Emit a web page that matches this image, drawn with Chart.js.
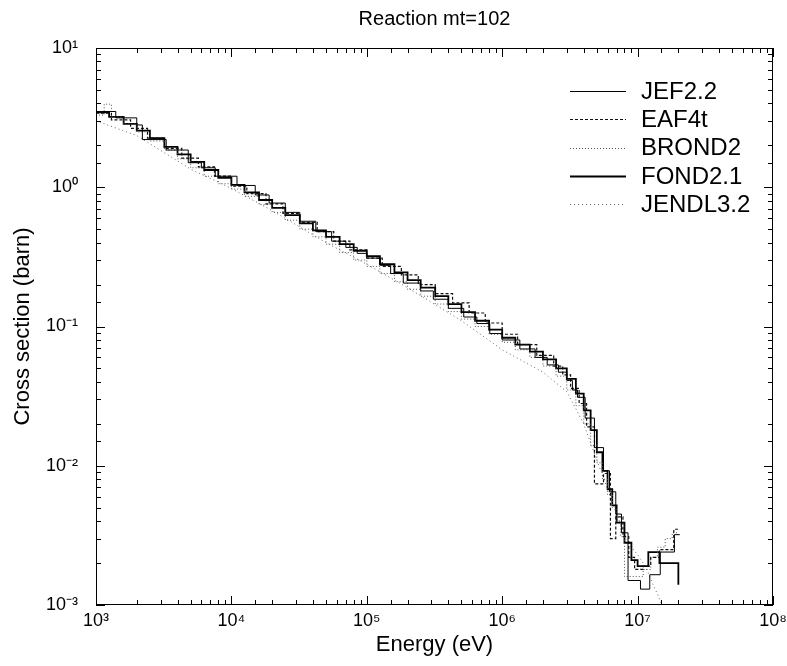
<!DOCTYPE html>
<html>
<head>
<meta charset="utf-8">
<title>Reaction mt=102</title>
<script src="https://cdn.jsdelivr.net/npm/chart.js@4.4.1/dist/chart.umd.min.js"></script>
<style>
  body { margin: 0; background: #fff; }
  #wrap { width: 787px; height: 666px; }
</style>
</head>
<body>
<div id="wrap"><canvas id="xsChart"></canvas></div>
<script>
// --- data (lower bin edge in eV, cross section in barn) ---
const seriesNames = ['JEF2.2', 'EAF4t', 'BROND2', 'FOND2.1', 'JENDL3.2'];

const jefE = [1e3, 1.4e3, 2.0e3, 2.2e3, 3.3e3, 4.8e3, 6.0e3, 7.6e3, 1.1e4, 1.5e4, 1.9e4, 2.5e4, 3.2e4, 4.2e4,
  5.5e4, 7.0e4, 8.5e4, 1.0e5, 1.26e5, 1.5e5, 1.86e5, 2.5e5, 3.1e5, 4.0e5, 5.2e5, 6.5e5, 8.1e5, 1.0e6,
  1.35e6, 1.75e6, 2.15e6, 2.6e6, 3.0e6, 3.3e6, 3.6e6, 4.1e6, 4.8e6, 5.6e6, 6.2e6, 6.9e6, 7.6e6, 8.5e6,
  1.05e7, 1.23e7, 1.47e7, 1.87e7, 2.05e7];
const jefS = [3.5, 3.15, 2.8, 2.2, 1.85, 1.5, 1.38, 1.2, 1.03, 0.88, 0.77, 0.66, 0.57, 0.48,
  0.41, 0.37, 0.335, 0.31, 0.275, 0.24, 0.205, 0.18, 0.157, 0.135, 0.117, 0.105, 0.089, 0.08,
  0.069, 0.06, 0.053, 0.047, 0.041, 0.035, 0.031, 0.022, 0.0135, 0.0092, 0.0065, 0.0045, 0.0033, 0.0015,
  0.0013, 0.00165, 0.0024, 0.0032, 0.0032];

const eafE = [1e3, 1.3e3, 1.8e3, 2.4e3, 3.2e3, 4.3e3, 5.7e3, 7.5e3, 1e4, 1.3e4, 1.8e4, 2.4e4, 3.2e4, 4.3e4,
  5.7e4, 7.5e4, 1e5, 1.3e5, 1.8e5, 2.4e5, 3.2e5, 4.3e5, 5.7e5, 7.5e5, 1e6, 1.3e6, 1.8e6, 2.4e6, 2.8e6,
  3.2e6, 3.7e6, 4.2e6, 4.8e6, 5.6e6, 6.3e6, 6.9e6, 7.8e6, 8.6e6, 9.5e6, 1.1e7, 1.25e7, 1.45e7, 1.65e7,
  1.85e7, 2.0e7];
const eafS = [3.4, 3.05, 2.65, 2.25, 1.9, 1.62, 1.4, 1.2, 1.02, 0.9, 0.76, 0.65, 0.56, 0.48,
  0.41, 0.355, 0.31, 0.27, 0.235, 0.2, 0.172, 0.148, 0.125, 0.106, 0.088, 0.074, 0.062, 0.052, 0.045,
  0.036, 0.028, 0.019, 0.0074, 0.0088, 0.003, 0.0043, 0.0031, 0.0022, 0.0018, 0.0019, 0.0022, 0.0025,
  0.0025, 0.0035, 0.0035];

const brondE = [1e3, 1.15e3, 1.3e3, 1.6e3, 2e3, 2.5e3, 3.2e3, 4e3, 5e3, 6.3e3, 8e3, 1e4, 1.25e4, 1.6e4,
  2e4, 2.5e4, 3.2e4, 4e4, 5e4, 6.3e4, 8e4, 1e5, 1.25e5, 1.6e5, 2e5, 2.5e5, 3.2e5, 4e5, 5e5, 6.3e5, 8e5,
  1e6, 1.25e6, 1.6e6, 2e6, 2.5e6, 3e6, 3.5e6, 4e6, 4.5e6, 5e6, 5.5e6, 6e6, 6.5e6, 7e6, 7.5e6, 8e6, 1e7,
  1.1e7, 1.25e7, 1.4e7, 1.6e7, 1.8e7, 2e7];
const brondS = [3.3, 3.95, 3.2, 2.85, 2.5, 2.15, 1.85, 1.6, 1.38, 1.2, 1.06, 0.97, 0.86, 0.75,
  0.66, 0.58, 0.5, 0.44, 0.39, 0.34, 0.3, 0.27, 0.24, 0.21, 0.185, 0.165, 0.145, 0.128, 0.113, 0.1, 0.088,
  0.077, 0.068, 0.06, 0.052, 0.044, 0.035, 0.027, 0.02, 0.014, 0.0105, 0.008, 0.0062, 0.005, 0.004, 0.0031, 0.0016, 0.0016,
  0.0018, 0.0022, 0.0026, 0.003, 0.0033, 0.0033];

const fondE = [1e3, 1.25e3, 1.6e3, 2e3, 2.5e3, 3.2e3, 4e3, 5e3, 6.3e3, 8e3, 1e4, 1.25e4, 1.6e4, 2e4,
  2.5e4, 3.2e4, 4e4, 5e4, 6.3e4, 8e4, 1e5, 1.25e5, 1.6e5, 2e5, 2.5e5, 3.2e5, 4e5, 5e5, 6.3e5, 8e5, 1e6,
  1.25e6, 1.6e6, 2e6, 2.5e6, 3e6, 3.5e6, 4e6, 4.5e6, 5e6, 5.5e6, 6e6, 6.5e6, 7e6, 8e6, 9e6, 1e7, 1.2e7,
  1.45e7, 2e7];
const fondS = [3.45, 3.2, 2.85, 2.55, 2.25, 1.95, 1.72, 1.52, 1.33, 1.17, 1.04, 0.92, 0.81, 0.71,
  0.63, 0.55, 0.49, 0.44, 0.39, 0.35, 0.32, 0.28, 0.245, 0.215, 0.19, 0.165, 0.145, 0.127, 0.11, 0.095, 0.083,
  0.074, 0.066, 0.058, 0.05, 0.042, 0.033, 0.025, 0.018, 0.0125, 0.0092, 0.0068, 0.0052, 0.0039, 0.0028, 0.0021, 0.0019, 0.0024,
  0.002, 0.0014];

// pointwise (not histogram)
const jendlE = [1e3, 2e3, 5e3, 1e4, 2e4, 5e4, 1e5, 2e5, 5e5, 1e6, 2e6, 3e6, 4e6, 5e6, 6e6, 7e6, 8e6, 9e6,
  1e7, 1.1e7, 1.2e7, 1.3e7, 1.4e7, 1.5e7, 1.6e7];
const jendlS = [3.0, 2.35, 1.35, 0.98, 0.68, 0.4, 0.28, 0.19, 0.11, 0.068, 0.047, 0.034, 0.02, 0.011, 0.0068,
  0.0045, 0.0032, 0.0026, 0.0023, 0.002, 0.0017, 0.0014, 0.0012, 0.00102, 0.00088];

const xTickLabels = { 1e3: '10³', 1e4: '10⁴', 1e5: '10⁵', 1e6: '10⁶', 1e7: '10⁷', 1e8: '10⁸' };
const yTickLabels = { 1e-3: '10⁻³', 1e-2: '10⁻²', 1e-1: '10⁻¹', 1: '10⁰', 10: '10¹' };

const FONT = "'Liberation Sans', Arial, Helvetica, sans-serif";

const toPoints = (es, ss) => es.map((e, i) => ({ x: e, y: ss[i] }));
const isDecade = v => Math.abs(Math.log10(v) - Math.round(Math.log10(v))) < 1e-6;
const decadeLabel = (table, v) => isDecade(v) ? table[Math.pow(10, Math.round(Math.log10(v)))] || '' : '';

// inward ticks on all four sides, frame, title and in-plot legend
const frameTicks = {
    id: 'frameTicks',
    afterDraw(chart) {
        const { ctx, chartArea: a, scales } = chart;
        ctx.save();
        ctx.strokeStyle = '#000';
        ctx.lineWidth = 1;
        ctx.strokeRect(a.left + 0.5, a.top + 0.5, a.right - a.left - 1, a.bottom - a.top - 1);

        ctx.beginPath();
        scales.x.ticks.forEach(t => {
            const px = Math.round(scales.x.getPixelForValue(t.value)) + 0.5;
            const len = isDecade(t.value) ? 9 : 5;
            ctx.moveTo(px, a.bottom); ctx.lineTo(px, a.bottom - len);
            ctx.moveTo(px, a.top); ctx.lineTo(px, a.top + len);
        });
        scales.y.ticks.forEach(t => {
            const py = Math.round(scales.y.getPixelForValue(t.value)) + 0.5;
            const len = isDecade(t.value) ? 9 : 5;
            ctx.moveTo(a.left, py); ctx.lineTo(a.left + len, py);
            ctx.moveTo(a.right, py); ctx.lineTo(a.right - len, py);
        });
        ctx.stroke();

        // title
        ctx.fillStyle = '#000';
        ctx.font = '20px ' + FONT;
        ctx.textAlign = 'center';
        ctx.textBaseline = 'middle';
        ctx.fillText('Reaction mt=102', (a.left + a.right) / 2, 19);

        // legend
        ctx.font = '24px ' + FONT;
        ctx.textAlign = 'left';
        chart.data.datasets.forEach((ds, i) => {
            const yy = a.top + 43 + i * 28.3;
            ctx.strokeStyle = ds.borderColor;
            ctx.lineWidth = ds.borderWidth;
            ctx.setLineDash(ds.borderDash || []);
            ctx.beginPath();
            ctx.moveTo(a.right - 203, Math.round(yy) + 0.5);
            ctx.lineTo(a.right - 147, Math.round(yy) + 0.5);
            ctx.stroke();
            ctx.setLineDash([]);
            ctx.fillText(ds.label, a.right - 132, yy + 1);
        });
        ctx.restore();
    }
};

const ctx = document.getElementById('xsChart');
new Chart(ctx, {
    type: 'line',
    data: {
        datasets: [
            { label: seriesNames[0], data: toPoints(jefE, jefS), stepped: 'before',
              borderColor: '#000', borderWidth: 1, borderDash: [] },
            { label: seriesNames[1], data: toPoints(eafE, eafS), stepped: 'before',
              borderColor: '#111', borderWidth: 1.2, borderDash: [3, 2] },
            { label: seriesNames[2], data: toPoints(brondE, brondS), stepped: 'before',
              borderColor: '#555', borderWidth: 1, borderDash: [1, 2] },
            { label: seriesNames[3], data: toPoints(fondE, fondS), stepped: 'before',
              borderColor: '#000', borderWidth: 1.8, borderDash: [] },
            { label: seriesNames[4], data: toPoints(jendlE, jendlS), stepped: false,
              borderColor: '#666', borderWidth: 1, borderDash: [1, 3] }
        ]
    },
    options: {
        responsive: true,
        maintainAspectRatio: false,
        animation: false,
        layout: { autoPadding: false, padding: { top: 48, right: 14, bottom: 0, left: 0 } },
        elements: { point: { radius: 0 }, line: { tension: 0, fill: false } },
        plugins: {
            legend: { display: false },
            tooltip: { enabled: false }
        },
        scales: {
            x: {
                type: 'logarithmic',
                min: 1e3,
                max: 1e8,
                grid: { display: false, drawTicks: false },
                border: { display: false },
                ticks: {
                    autoSkip: false,
                    maxRotation: 0,
                    padding: 5,
                    color: '#000',
                    font: { family: FONT, size: 18 },
                    callback: v => decadeLabel(xTickLabels, v)
                },
                title: {
                    display: true,
                    text: 'Energy (eV)',
                    color: '#000',
                    font: { family: FONT, size: 22 },
                    padding: { top: 0, bottom: 8 }
                },
                afterFit: scale => {
                    scale.height = 61;
                    scale.paddingLeft = 0;
                    scale.paddingRight = 0;
                }
            },
            y: {
                type: 'logarithmic',
                min: 1e-3,
                max: 10,
                grid: { display: false, drawTicks: false },
                border: { display: false },
                ticks: {
                    autoSkip: false,
                    padding: 18,
                    color: '#000',
                    font: { family: FONT, size: 18 },
                    callback: v => decadeLabel(yTickLabels, v)
                },
                title: {
                    display: true,
                    text: 'Cross section (barn)',
                    color: '#000',
                    font: { family: FONT, size: 22 },
                    padding: { top: 10, bottom: 0 }
                },
                afterFit: scale => {
                    scale.width = 96;
                    scale.paddingTop = 0;
                    scale.paddingBottom = 0;
                }
            }
        }
    },
    plugins: [frameTicks]
});
</script>
</body>
</html>
